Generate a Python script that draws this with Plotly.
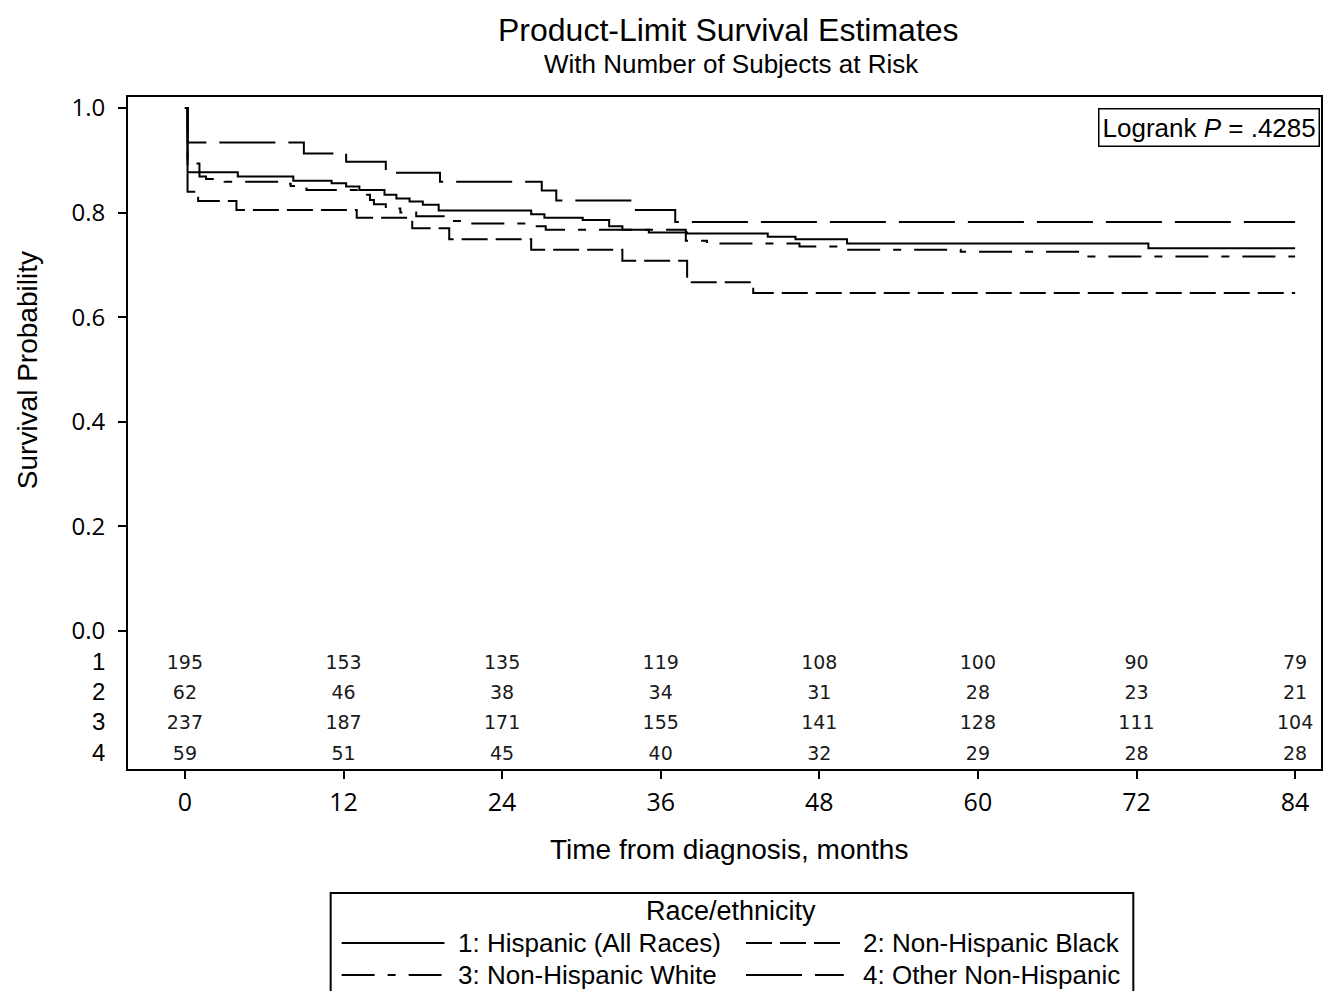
import plotly.graph_objects as go

# ---------------- data ----------------
groups = ["1: Hispanic (All Races)", "2: Non-Hispanic Black",
          "3: Non-Hispanic White", "4: Other Non-Hispanic"]
row_labels = ["1", "2", "3", "4"]

# Kaplan-Meier step curves (time in months, survival probability)
t1 = [0, 0.2, 4.0, 8.2, 11.1, 12.2, 13.2, 15.1, 16.0, 17.0, 18.0, 19.2, 26.2, 27.2,
      30.1, 32.1, 33.1, 35.1, 38.0, 44.1, 46.2, 50.1, 72.9, 84]
s1 = [1.0, 0.877, 0.869, 0.861, 0.856, 0.850, 0.843, 0.834, 0.827, 0.821, 0.815, 0.804, 0.797, 0.790,
      0.786, 0.774, 0.767, 0.762, 0.760, 0.754, 0.749, 0.741, 0.732, 0.732]

t2 = [0, 0.2, 1.0, 3.9, 13.0, 17.2, 20.0, 26.2, 33.1, 38.0, 43.0, 84]
s2 = [1.0, 0.840, 0.822, 0.805, 0.790, 0.770, 0.749, 0.729, 0.708, 0.667, 0.646, 0.646]

t3 = [0, 0.2, 1.1, 1.6, 3.0, 7.2, 8.0, 9.2, 13.2, 14.0, 14.3, 15.2, 16.3, 17.5, 20.0, 21.0,
      26.2, 27.3, 37.9, 39.5, 46.5, 49.8, 58.7, 68.1, 84]
s3 = [1.0, 0.894, 0.869, 0.864, 0.859, 0.855, 0.851, 0.843, 0.834, 0.824, 0.816, 0.808, 0.800, 0.793,
      0.784, 0.779, 0.774, 0.767, 0.746, 0.741, 0.735, 0.729, 0.725, 0.716, 0.716]

t4 = [0, 0.2, 9.0, 12.2, 15.2, 19.3, 27.0, 28.1, 33.8, 37.1, 84]
s4 = [1.0, 0.934, 0.913, 0.897, 0.876, 0.859, 0.842, 0.823, 0.805, 0.782, 0.782]

# number at risk table
risk_times = [0, 12, 24, 36, 48, 60, 72, 84]
risk1 = [195, 153, 135, 119, 108, 100, 90, 79]
risk2 = [62, 46, 38, 34, 31, 28, 23, 21]
risk3 = [237, 187, 171, 155, 141, 128, 111, 104]
risk4 = [59, 51, 45, 40, 32, 29, 28, 28]

x_ticks = [0, 12, 24, 36, 48, 60, 72, 84]
y_ticks = [0.0, 0.2, 0.4, 0.6, 0.8, 1.0]
y_ticklabels = ["0.0", "0.2", "0.4", "0.6", "0.8", "1.0"]

title_text = "Product-Limit Survival Estimates"
subtitle_text = "With Number of Subjects at Risk"
x_title = "Time from diagnosis, months"
y_title = "Survival Probability"
legend_title = "Race/ethnicity"
pvalue_text = "Logrank <i>P</i> = .4285"

# ---------------- styling / layout ----------------
W, H = 1325, 991
L, R, T, B = 128, 1323, 97, 769          # plot area in pixels
PW, PH = R - L, B - T

def pxx(px):
    return (px - L) / PW

def pxy(py):
    return (B - py) / PH

BLACK = "#000000"
LW = 2
FONT = "Liberation Sans"
dashes = ["solid", "26px,8px", "33px,13px,8px,13px", "56px,13px"]
curves = [(t1, s1), (t2, s2), (t3, s3), (t4, s4)]
risks = [risk1, risk2, risk3, risk4]

# axis ranges chosen so that the at-risk rows sit inside the frame
x_range = [-4.306, 85.96]
y_range = [-0.2639, 1.021]
row_y = [-0.0630, -0.1205, -0.1779, -0.2372]

fig = go.Figure()

# draw dashed curves first, solid last (on top)
for i in [3, 2, 1, 0]:
    tx, sy = curves[i]
    fig.add_trace(go.Scatter(
        x=tx, y=sy, mode="lines", line_shape="hv",
        line=dict(color=BLACK, width=LW, dash=dashes[i]),
        name=groups[i], showlegend=False, hoverinfo="skip"))

for i in range(4):
    fig.add_trace(go.Scatter(
        x=risk_times, y=[row_y[i]] * len(risk_times), mode="text",
        text=[str(v) for v in risks[i]],
        textfont=dict(family="DejaVu Sans", size=19, color="#1a1a1a"),
        textposition="middle center", showlegend=False, hoverinfo="skip",
        cliponaxis=False))

annotations = []
# titles
annotations.append(dict(text=title_text, xref="paper", yref="paper",
                        x=pxx(730), y=pxy(30), xanchor="center", yanchor="middle",
                        showarrow=False, font=dict(family=FONT, size=32, color=BLACK)))
annotations.append(dict(text=subtitle_text, xref="paper", yref="paper",
                        x=pxx(733), y=pxy(64), xanchor="center", yanchor="middle",
                        showarrow=False, font=dict(family=FONT, size=26, color=BLACK)))
# axis titles
annotations.append(dict(text=x_title, xref="paper", yref="paper",
                        x=pxx(730), y=pxy(849), xanchor="center", yanchor="middle",
                        showarrow=False, font=dict(family=FONT, size=28, color=BLACK)))
annotations.append(dict(text=y_title, xref="paper", yref="paper", textangle=-90,
                        x=pxx(27), y=pxy(370), xanchor="center", yanchor="middle",
                        showarrow=False, font=dict(family=FONT, size=28, color=BLACK)))
# row labels of the at-risk table
for i, lab in enumerate(row_labels):
    annotations.append(dict(text=lab, xref="paper", yref="y",
                            x=pxx(98), y=row_y[i] + 0.004, xanchor="center", yanchor="middle",
                            showarrow=False, font=dict(family=FONT, size=24, color=BLACK)))
# p-value box
annotations.append(dict(text=pvalue_text, xref="paper", yref="paper",
                        x=pxx(1322), y=pxy(108), xanchor="right", yanchor="top",
                        showarrow=False, bordercolor=BLACK, borderwidth=1.5, borderpad=3,
                        bgcolor="white", font=dict(family=FONT, size=26, color=BLACK)))

# manual legend
shapes = []
shapes.append(dict(type="rect", xref="paper", yref="paper",
                   x0=pxx(331), x1=pxx(1135), y0=pxy(1005), y1=pxy(893),
                   line=dict(color=BLACK, width=2), fillcolor="rgba(0,0,0,0)"))
annotations.append(dict(text=legend_title, xref="paper", yref="paper",
                        x=pxx(732), y=pxy(911), xanchor="center", yanchor="middle",
                        showarrow=False, font=dict(family=FONT, size=27, color=BLACK)))
leg_pos = [(342, 445, 457, 943), (747, 845, 862, 943), (342, 445, 457, 975), (747, 845, 862, 975)]
for i, (lx0, lx1, tx0, ly) in enumerate(leg_pos):
    shapes.append(dict(type="line", xref="paper", yref="paper",
                       x0=pxx(lx0), x1=pxx(lx1), y0=pxy(ly), y1=pxy(ly),
                       line=dict(color=BLACK, width=LW, dash=dashes[i])))
    annotations.append(dict(text=groups[i], xref="paper", yref="paper",
                            x=pxx(tx0), y=pxy(ly), xanchor="left", yanchor="middle",
                            showarrow=False, font=dict(family=FONT, size=26, color=BLACK)))

fig.update_layout(
    width=W, height=H, autosize=False,
    margin=dict(l=L, r=W - R, t=T, b=H - B, pad=0),
    paper_bgcolor="white", plot_bgcolor="white",
    showlegend=False,
    annotations=annotations, shapes=shapes,
)
fig.update_xaxes(range=x_range, tickvals=x_ticks, ticktext=[str(v) for v in x_ticks],
                 ticks="outside", ticklen=8, tickwidth=2, tickcolor=BLACK,
                 showline=True, linecolor=BLACK, linewidth=2, mirror=True,
                 showgrid=False, zeroline=False, ticklabelstandoff=2,
                 tickfont=dict(family="Open Sans", size=25, color=BLACK))
fig.update_yaxes(range=y_range, tickvals=y_ticks, ticktext=y_ticklabels,
                 ticks="outside", ticklen=8, tickwidth=2, tickcolor=BLACK,
                 showline=True, linecolor=BLACK, linewidth=2, mirror=True,
                 showgrid=False, zeroline=False, ticklabelstandoff=8,
                 tickfont=dict(family="Open Sans", size=24, color=BLACK))

fig.write_html("out.html")
